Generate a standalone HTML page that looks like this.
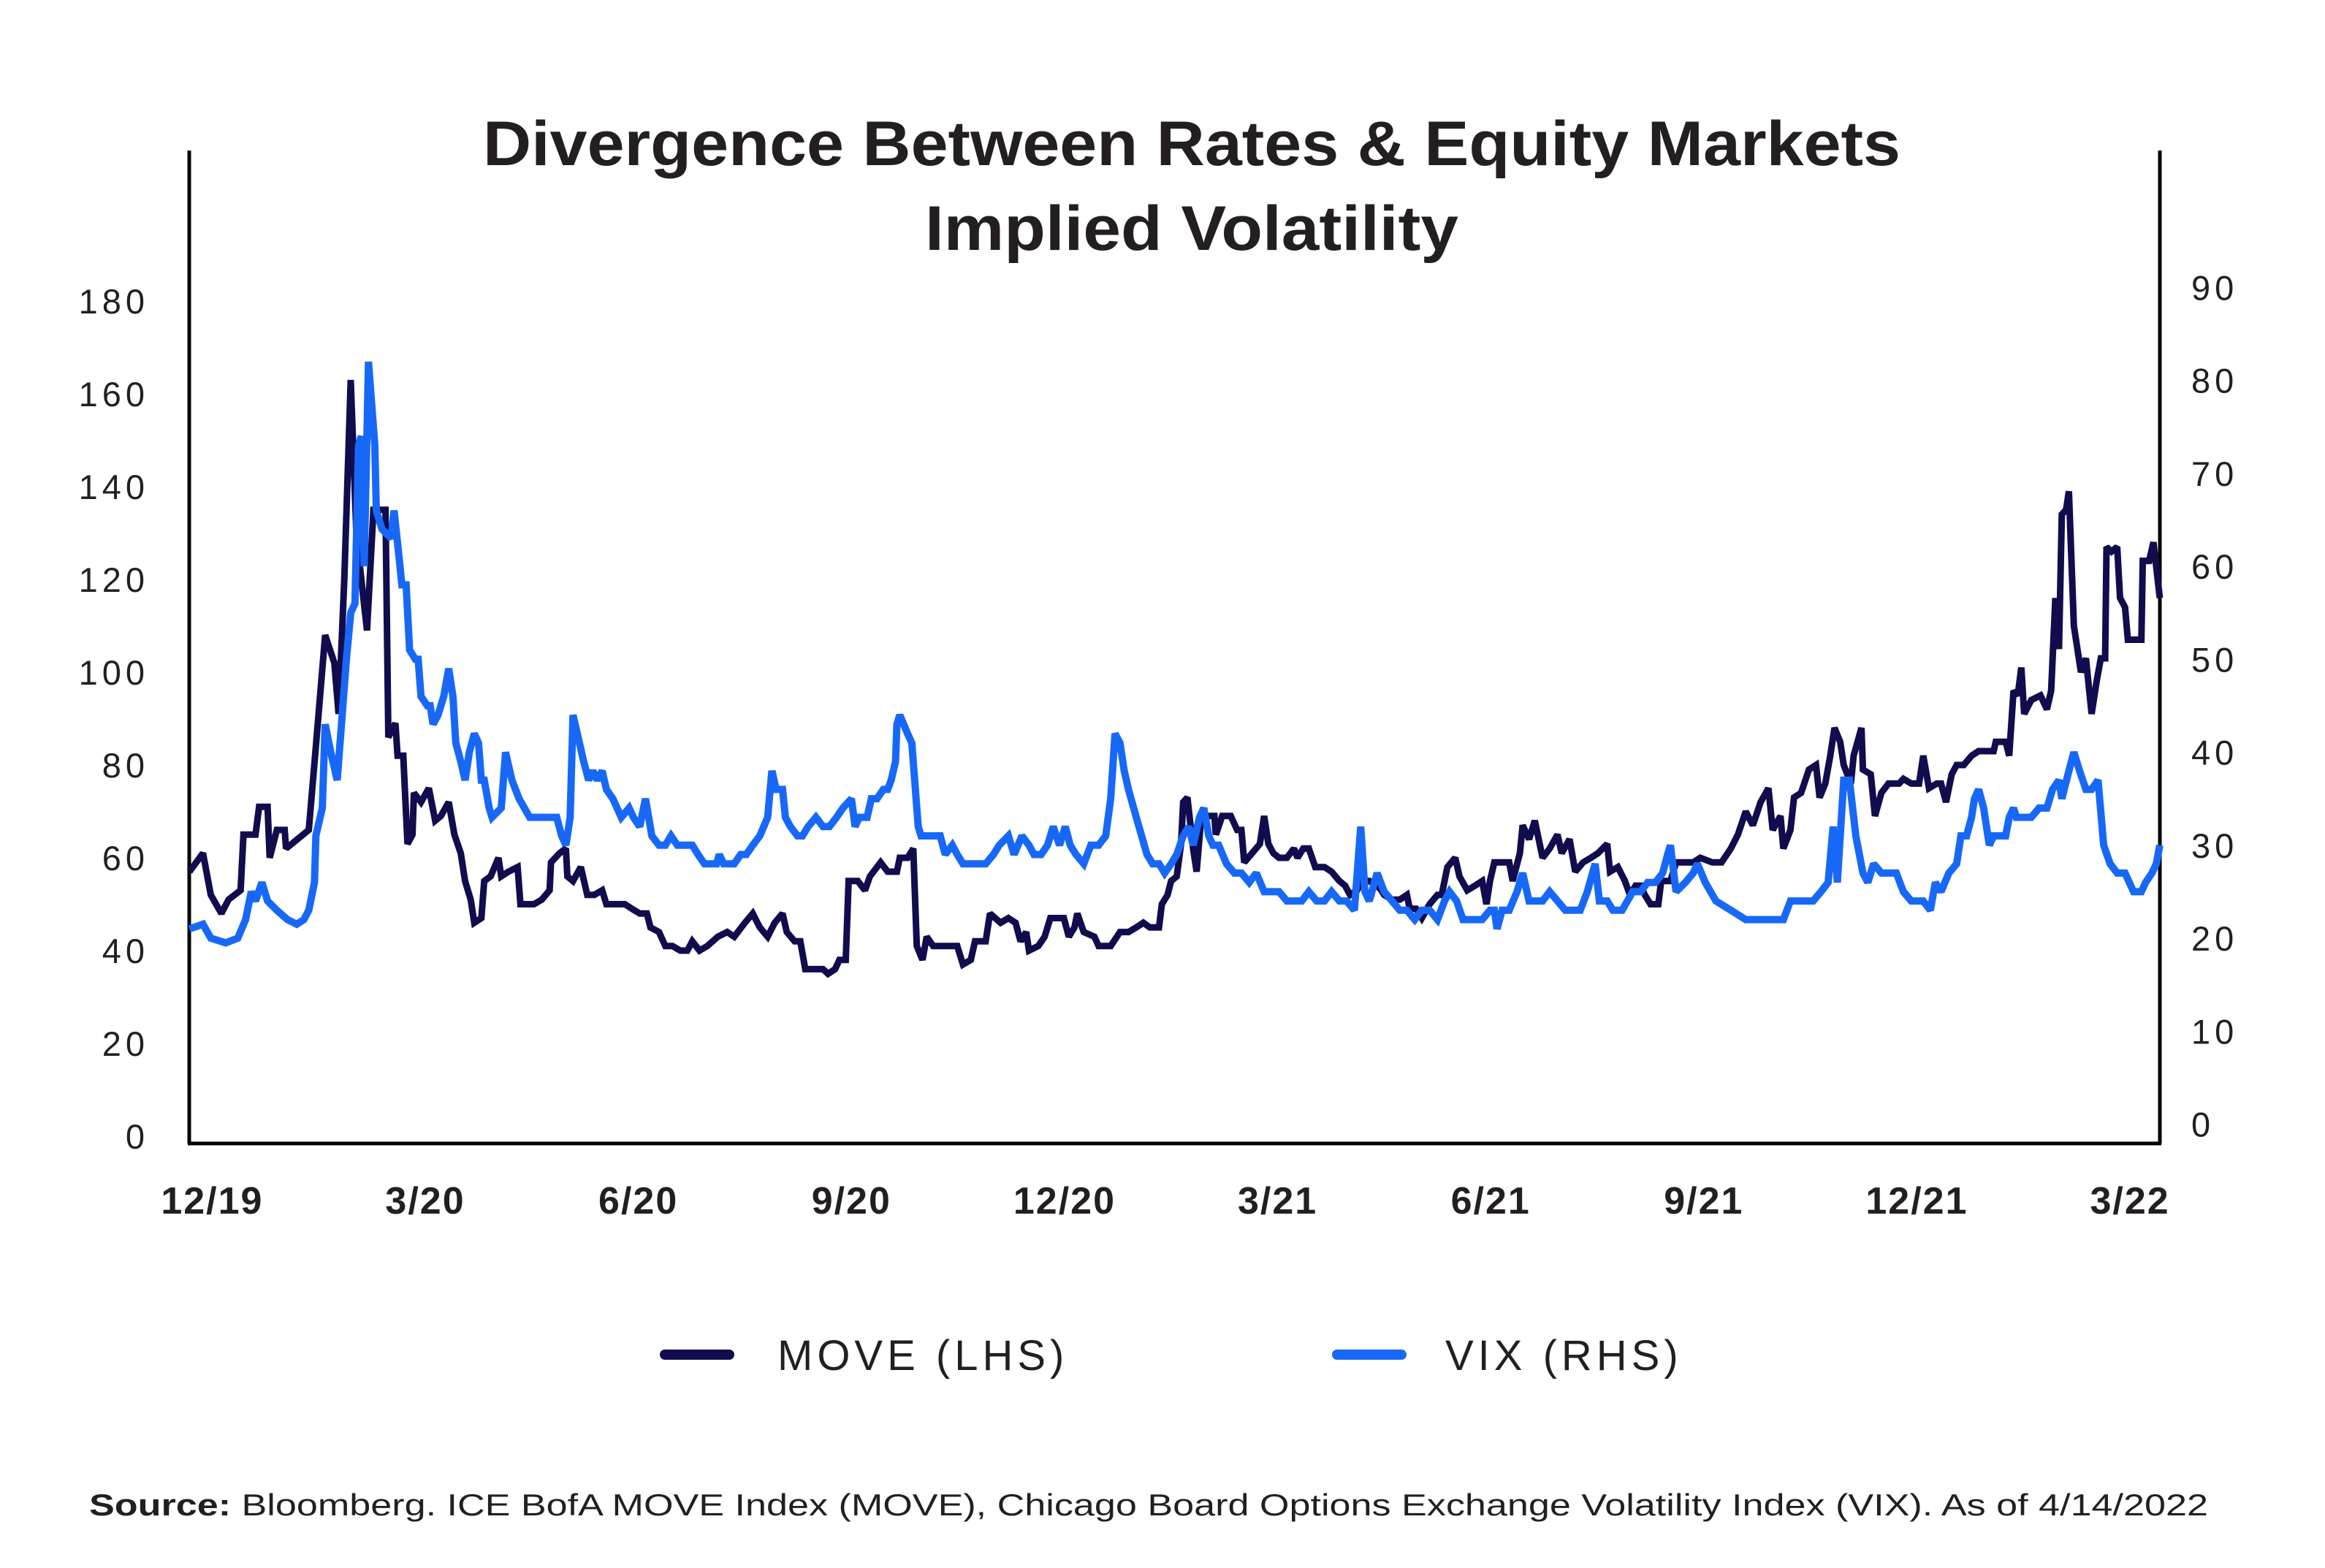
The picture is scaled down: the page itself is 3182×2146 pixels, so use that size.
<!DOCTYPE html>
<html><head><meta charset="utf-8"><style>
html,body{margin:0;padding:0;background:#fff}
svg{display:block}
text{font-family:"Liberation Sans",Arial,sans-serif;fill:#231f20}
</style></head><body>
<svg id="chart" width="3182" height="2146" viewBox="0 0 3182 2146" xmlns="http://www.w3.org/2000/svg">
<rect width="3182" height="2146" fill="#fff"/>
<text x="1631" y="226" text-anchor="middle" font-size="86" font-weight="bold" textLength="1940" lengthAdjust="spacingAndGlyphs">Divergence Between Rates &amp; Equity Markets</text>
<text x="1631" y="342" text-anchor="middle" font-size="86" font-weight="bold" textLength="730" lengthAdjust="spacingAndGlyphs">Implied Volatility</text>
<g id="plot"></g>
<g>
<line x1="910" y1="1854" x2="998" y2="1854" stroke="#110c4d" stroke-width="14" stroke-linecap="round"/>
<text x="1064" y="1875" font-size="58" letter-spacing="6">MOVE (LHS)</text>
<line x1="1830" y1="1854" x2="1918" y2="1854" stroke="#1868f8" stroke-width="14" stroke-linecap="round"/>
<text x="1978" y="1875" font-size="58" letter-spacing="6">VIX (RHS)</text>
</g>
<text x="122" y="2074" font-size="42" textLength="2900" lengthAdjust="spacingAndGlyphs"><tspan font-weight="bold">Source:</tspan> Bloomberg. ICE BofA MOVE Index (MOVE), Chicago Board Options Exchange Volatility Index (VIX). As of 4/14/2022</text>
</svg>
<script>
// time in months since Dec 2019
const xTickMonths=[0,3,6,9,12,15,18,21,24,27];
const xTickLabels=["12/19","3/20","6/20","9/20","12/20","3/21","6/21","9/21","12/21","3/22"];
const leftTicks=[0,20,40,60,80,100,120,140,160,180];
const rightTicks=[0,10,20,30,40,50,60,70,80,90];
const moveT=[-0.32,-0.13,-0.02,0.13,0.23,0.40,0.44,0.61,0.66,0.78,0.81,0.91,1.02,1.04,1.36,1.46,1.59,1.72,1.78,1.86,1.95,2.03,2.10,2.18,2.27,2.35,2.44,2.48,2.58,2.61,2.69,2.75,2.82,2.84,2.94,3.05,3.14,3.22,3.33,3.41,3.50,3.56,3.64,3.69,3.79,3.83,3.92,4.03,4.07,4.17,4.30,4.34,4.53,4.64,4.75,4.77,4.89,4.98,5.00,5.08,5.19,5.28,5.38,5.49,5.55,5.81,5.91,6.02,6.12,6.17,6.29,6.38,6.48,6.59,6.69,6.76,6.86,6.97,7.12,7.25,7.35,7.50,7.61,7.71,7.82,7.92,8.03,8.09,8.20,8.28,8.35,8.52,8.60,8.67,8.77,8.83,8.92,8.96,9.09,9.19,9.26,9.41,9.51,9.64,9.68,9.79,9.87,9.92,10.00,10.06,10.15,10.25,10.36,10.49,10.57,10.68,10.74,10.89,10.95,11.10,11.21,11.31,11.38,11.46,11.50,11.63,11.72,11.80,11.99,12.06,12.14,12.18,12.27,12.42,12.48,12.65,12.78,12.90,13.01,13.11,13.20,13.33,13.37,13.45,13.50,13.58,13.64,13.67,13.73,13.81,13.86,13.92,13.98,14.11,14.13,14.22,14.34,14.43,14.49,14.53,14.64,14.75,14.81,14.87,14.94,15.02,15.13,15.23,15.28,15.36,15.44,15.53,15.66,15.76,15.87,15.95,16.02,16.12,16.19,16.29,16.40,16.46,16.50,16.61,16.72,16.82,16.86,16.95,17.03,17.14,17.25,17.31,17.39,17.50,17.56,17.67,17.78,17.88,17.94,17.99,18.05,18.26,18.31,18.41,18.45,18.54,18.62,18.73,18.83,18.94,19.00,19.11,19.19,19.30,19.41,19.51,19.64,19.68,19.79,19.89,19.96,20.04,20.11,20.17,20.25,20.36,20.40,20.53,20.61,20.74,20.85,20.95,21.12,21.25,21.38,21.48,21.59,21.69,21.80,21.91,21.97,22.08,22.12,22.22,22.27,22.37,22.48,22.58,22.63,22.71,22.78,22.84,22.92,22.97,23.07,23.11,23.22,23.24,23.35,23.41,23.50,23.60,23.75,23.81,23.92,24.03,24.09,24.17,24.28,24.34,24.41,24.49,24.56,24.66,24.77,24.87,24.98,25.08,25.11,25.25,25.30,25.36,25.42,25.47,25.51,25.61,25.74,25.83,25.89,25.95,26.00,26.04,26.10,26.14,26.21,26.31,26.38,26.46,26.53,26.59,26.65,26.67,26.74,26.82,26.86,26.93,26.97,27.16,27.18,27.27,27.33,27.42];
const moveV=[57,61,52,48,51,53,65,65,71,71,60,66,66,62,66,84,108,102,91,120,163,130,120,109,135,135,135,86,89,82,82,63,65,74,72,75,68,69,72,65,61,55,51,46,47,55,56,60,56,57,58,50,50,51,53,59,61,62,56,55,58,52,52,53,50,50,49,48,48,45,44,41,41,40,40,42,40,41,43,44,43,46,48,45,43,46,48,44,42,42,36,36,36,35,36,38,38,55,55,53,56,59,57,57,60,60,62,41,38,43,41,41,41,41,37,38,42,42,48,46,47,46,42,44,40,41,43,47,47,43,45,48,44,43,41,41,44,44,45,46,45,45,50,52,55,56,63,72,73,62,57,68,69,69,65,69,69,66,66,59,61,63,69,63,61,60,60,62,60,62,62,58,58,57,55,54,52,53,55,55,54,53,52,51,51,52,49,49,47,50,52,52,58,60,56,53,54,55,50,55,59,59,55,61,67,64,68,60,62,65,61,64,57,59,60,61,63,57,58,55,52,54,54,52,50,50,55,55,59,59,59,60,59,59,62,65,70,67,72,75,66,69,62,66,73,74,79,80,73,76,82,88,85,80,76,82,88,79,78,69,74,76,76,77,76,76,82,75,76,76,72,78,80,80,82,83,83,83,85,85,82,96,95,101,91,94,95,92,96,116,105,134,135,139,110,100,103,91,98,103,103,127,126,127,116,114,107,107,124,124,128,116];
const vixT=[-0.32,-0.13,-0.02,0.19,0.36,0.47,0.55,0.61,0.70,0.78,0.91,1.06,1.19,1.29,1.36,1.44,1.46,1.55,1.59,1.67,1.76,1.89,1.95,2.01,2.06,2.10,2.14,2.20,2.29,2.31,2.39,2.52,2.56,2.63,2.67,2.73,2.78,2.86,2.90,2.94,3.03,3.07,3.11,3.18,3.26,3.33,3.39,3.43,3.50,3.56,3.62,3.69,3.75,3.79,3.83,3.90,3.94,4.07,4.13,4.22,4.32,4.47,4.60,4.75,4.85,4.92,4.98,5.04,5.08,5.17,5.23,5.30,5.36,5.42,5.49,5.55,5.64,5.76,5.87,5.93,6.02,6.10,6.19,6.29,6.38,6.46,6.55,6.65,6.76,6.84,6.93,6.99,7.10,7.14,7.20,7.35,7.44,7.52,7.61,7.71,7.82,7.88,7.94,8.03,8.07,8.14,8.24,8.31,8.39,8.50,8.60,8.69,8.79,8.88,9.00,9.05,9.11,9.22,9.28,9.36,9.45,9.51,9.56,9.62,9.64,9.68,9.79,9.85,9.94,9.98,10.15,10.25,10.32,10.42,10.49,10.57,10.68,10.78,10.89,11.00,11.08,11.21,11.29,11.40,11.50,11.57,11.67,11.76,11.84,11.93,12.01,12.08,12.16,12.27,12.37,12.48,12.58,12.65,12.71,12.78,12.84,12.90,13.01,13.16,13.24,13.33,13.41,13.50,13.58,13.67,13.75,13.81,13.90,13.96,14.03,14.09,14.17,14.28,14.39,14.49,14.60,14.70,14.81,14.92,15.02,15.13,15.23,15.34,15.44,15.55,15.66,15.76,15.87,15.97,16.08,16.17,16.23,16.29,16.40,16.50,16.61,16.72,16.82,16.93,17.03,17.14,17.25,17.35,17.42,17.52,17.61,17.78,17.88,17.99,18.05,18.09,18.16,18.26,18.37,18.45,18.54,18.62,18.73,18.83,18.94,19.05,19.15,19.26,19.36,19.47,19.53,19.64,19.72,19.85,20.00,20.11,20.21,20.32,20.42,20.49,20.53,20.61,20.74,20.85,20.91,21.02,21.17,21.38,21.59,21.80,22.01,22.12,22.22,22.33,22.44,22.54,22.65,22.75,22.82,22.88,22.97,23.05,23.14,23.24,23.31,23.39,23.50,23.60,23.71,23.81,23.92,24.09,24.19,24.26,24.34,24.45,24.56,24.62,24.70,24.77,24.81,24.87,24.94,25.02,25.08,25.19,25.25,25.30,25.36,25.40,25.51,25.61,25.72,25.83,25.91,26.00,26.04,26.14,26.21,26.29,26.38,26.46,26.55,26.63,26.72,26.82,26.93,27.05,27.16,27.22,27.31,27.37,27.42];
const vixV=[21,21.5,20,19.5,20,22,25,24,26,24,23,22,21.5,22,23,26,31,34,43,40,37,50,55,56,73,74,60,82,73,66,64,63,66,61,58,58,51,50,50,46,45,45,43,44,46,49,46,41,39,37,40,42,41,37,37,34,33,34,40,37,35,33,33,33,33,31,30,33,44,41,39,37,38,37,38,36,35,33,34,33,32,35,31,30,30,31,30,30,30,29,28,28,28,29,28,28,29,29,30,31,33,38,36,36,33,32,31,31,32,33,32,32,33,34,35,32,33,33,35,35,36,36,37,39,43,44,42,41,32,31,31,31,29,30,29,28,28,28,28,29,30,31,29,31,30,29,29,30,32,30,32,30,29,28,30,30,31,35,42,41,38,36,33,29,28,28,27,28,29,31,32,30,33,34,31,30,30,28,27,27,26,27,25,25,25,24,24,24,25,24,24,25,24,24,23,32,25,24,27,25,24,23,23,22,23,23,22,24,25,24,22,22,22,23,23,21,23,23,25,27,24,24,24,25,24,23,23,23,25,28,24,24,23,23,25,25,26,26,27,29,30,25,26,27,28,26,24,23,22,22,22,22,24,24,24,24,25,26,32,26,37,37,31,27,26,28,27,27,27,25,24,24,23,26,25,27,28,31,31,33,35,36,34,30,31,31,31,33,34,33,33,33,34,34,36,37,35,38,40,38,36,36,37,30,28,27,27,25,25,26,27,28,30];

const X0=259,X1=2956,Y0=206,Y1=1565;
function xS(m){return 290.4+(m-0)*(2915.1-290.4)/27;}
function yL(v){return 1555+(v-0)*(412-1555)/180;}
function yR(v){return 1538.5+(v-0)*(393.3-1538.5)/90;}
const NS="http://www.w3.org/2000/svg";
const plot=document.getElementById('plot');
function mk(tag,attrs){const e=document.createElementNS(NS,tag);for(const k in attrs)e.setAttribute(k,attrs[k]);return e;}

let a=mk('line',{x1:X0,y1:Y0,x2:X0,y2:Y1,stroke:'#000','stroke-width':5});


plot.appendChild(a);
a=mk('line',{x1:X1,y1:Y0,x2:X1,y2:Y1,stroke:'#000','stroke-width':5});


plot.appendChild(a);
a=mk('line',{x1:X0-2,y1:Y1,x2:X1+2,y2:Y1,stroke:'#000','stroke-width':5});


plot.appendChild(a);

leftTicks.forEach(v=>{
  const t=mk('text',{x:204,y:yL(v)+17,'text-anchor':'end','font-size':47,'letter-spacing':6});
  t.textContent=v;
  
  
  plot.appendChild(t);
});
rightTicks.forEach(v=>{
  const t=mk('text',{x:2999,y:yR(v)+17,'text-anchor':'start','font-size':47,'letter-spacing':6});
  t.textContent=v;
  
  
  plot.appendChild(t);
});
xTickMonths.forEach((m,i)=>{
  const t=mk('text',{x:xS(m),y:1661,'text-anchor':'middle','font-size':52,'font-weight':'bold','letter-spacing':2});
  t.textContent=xTickLabels[i];
  
  
  plot.appendChild(t);
});

function path(ts,vs,ys){return ts.map((m,i)=>(i?'L':'M')+xS(m).toFixed(1)+' '+ys(vs[i]).toFixed(1)).join(' ');}
const pm=mk('path',{d:path(moveT,moveV,yL),fill:'none',stroke:'#110c4d','stroke-width':9,'stroke-linejoin':'miter','stroke-miterlimit':2});


const pv=mk('path',{d:path(vixT,vixV,yR),fill:'none',stroke:'#1868f8','stroke-width':10,'stroke-linejoin':'miter','stroke-miterlimit':2});


plot.appendChild(pm);
plot.appendChild(pv);
</script>
</body></html>
